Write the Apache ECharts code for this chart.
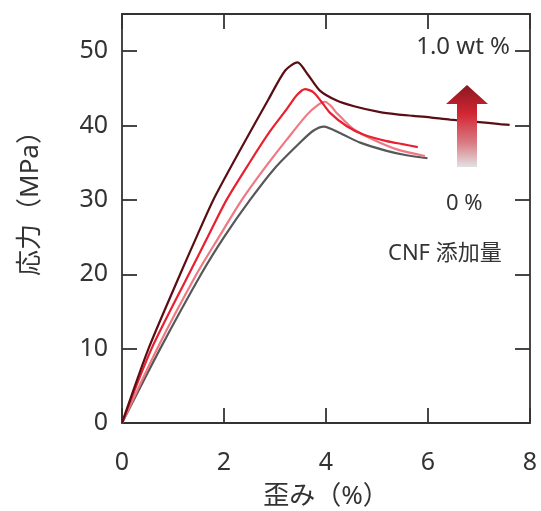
<!DOCTYPE html>
<html>
<head>
<meta charset="utf-8">
<script src="https://cdn.jsdelivr.net/npm/echarts@6/dist/echarts.min.js"></script>
<style>html,body{margin:0;padding:0;background:#fff}#c{width:541px;height:511px}</style>
</head>
<body>
<div id="c"></div>
<script>
const xTicks = [0, 2, 4, 6, 8];
const yTicks = [0, 10, 20, 30, 40, 50];
const yMax = 55;
const seriesNames = ['0 %', 'CNF low', 'CNF mid', '1.0 wt %'];
const gray = [[0,0],[0.75,10],[1.55,20],[2.0,25],[2.51,30],[3.0,34.3],[3.49,37.7],[3.75,39.3],[3.96,39.85],[4.27,39.0],[4.67,37.7],[5.19,36.6],[5.58,36.0],[5.99,35.6]];
const pink = [[0,0],[0.69,10],[1.46,20],[1.9,25],[2.35,30],[2.8,34.3],[3.23,38.1],[3.62,41.4],[3.85,42.8],[3.98,43.2],[4.10,42.6],[4.21,41.7],[4.54,39.5],[4.93,38.1],[5.39,36.8],[5.94,35.9]];
const red = [[0,0],[0.58,10],[1.31,20],[1.68,25],[2.05,30],[2.5,35],[2.9,39.2],[3.23,42.2],[3.43,44.1],[3.59,44.9],[3.75,44.5],[3.90,43.3],[4.08,41.7],[4.41,39.9],[4.73,38.8],[5.19,37.9],[5.50,37.5],[5.80,37.1]];
const dark = [[0,0],[0.52,10],[1.14,20],[1.46,25],[1.79,30],[2.3,36.5],[2.87,43.5],[3.2,47.4],[3.44,48.5],[3.65,46.8],[3.88,44.7],[4.20,43.4],[4.55,42.6],[5.06,41.8],[5.39,41.5],[5.71,41.3],[6.04,41.1],[6.43,40.8],[6.95,40.5],[7.41,40.2],[7.60,40.1]];
const curveData = [gray, pink, red, dark];
const colors = ['#575757', '#ef7882', '#e8202f', '#5b0d14'];

const FONT = "'Noto Sans', 'Noto Sans CJK JP', sans-serif";
const chart = echarts.init(document.getElementById('c'));
const AX = '#333333';
const axisLineStyle = {color: AX, width: 1.8};
const baseX = {type: 'value', min: xTicks[0], max: xTicks[xTicks.length - 1], interval: 2};
const baseY = {type: 'value', min: yTicks[0], max: yMax, interval: 10};
const tickOpt = {show: true, inside: true, length: 15, lineStyle: {color: AX, width: 1.8}};

chart.setOption({
  backgroundColor: '#fff',
  animation: false,
  grid: {left: 122, right: 11, top: 14, bottom: 88, containLabel: false, outerBoundsMode: 'none'},
  xAxis: [
    Object.assign({}, baseX, {
      position: 'bottom',
      name: '歪み（%）', nameLocation: 'middle', nameGap: 61,
      nameTextStyle: {fontSize: 26, color: '#333', fontFamily: FONT},
      axisLine: {show: true, onZero: false, lineStyle: axisLineStyle},
      axisTick: tickOpt,
      axisLabel: {fontSize: 25, color: '#333', fontFamily: FONT, margin: 27},
      splitLine: {show: false}
    }),
    Object.assign({}, baseX, {
      position: 'top',
      axisLine: {show: true, onZero: false, lineStyle: axisLineStyle},
      axisTick: tickOpt,
      axisLabel: {show: false},
      splitLine: {show: false}
    })
  ],
  yAxis: [
    Object.assign({}, baseY, {
      position: 'left',
      axisLine: {show: true, onZero: false, lineStyle: axisLineStyle},
      axisTick: tickOpt,
      axisLabel: {fontSize: 25, color: '#333', fontFamily: FONT, margin: 14, showMaxLabel: false},
      splitLine: {show: false}
    }),
    Object.assign({}, baseY, {
      position: 'right',
      axisLine: {show: true, onZero: false, lineStyle: axisLineStyle},
      axisTick: tickOpt,
      axisLabel: {show: false},
      splitLine: {show: false}
    })
  ],
  series: curveData.map((d, i) => ({
    name: seriesNames[i],
    type: 'line',
    data: d,
    showSymbol: false,
    smooth: 0.25,
    lineStyle: {color: colors[i], width: 2.2},
    itemStyle: {color: colors[i]},
    z: 2 + i
  })),
  graphic: [
    {
      type: 'text', x: 31, y: 197, rotation: Math.PI / 2,
      style: {text: '応力（MPa）', fontSize: 26, fill: '#333', fontFamily: FONT, align: 'center', verticalAlign: 'middle'}
    },
    {
      type: 'polygon',
      shape: {points: [[467,85],[446,104],[457,104],[457,167],[477,167],[477,104],[488,104]]},
      style: {
        fill: new echarts.graphic.LinearGradient(0, 0, 0, 1, [
          {offset: 0, color: '#8a1820'},
          {offset: 0.35, color: '#d22633'},
          {offset: 0.7, color: '#d97a82'},
          {offset: 1, color: '#e2e2e2'}
        ])
      },
      z: 10
    },
    {type: 'text', right: 31, top: 35, style: {text: '1.0 wt %', fontSize: 24, fill: '#333', fontFamily: FONT}, z: 10},
    {type: 'text', left: 446, top: 193, style: {text: '0 %', fontSize: 22, fill: '#333', fontFamily: FONT}, z: 10},
    {type: 'text', left: 388, top: 243, style: {text: 'CNF 添加量', fontSize: 22, fill: '#333', fontFamily: FONT}, z: 10}
  ]
});
</script>
</body>
</html>
